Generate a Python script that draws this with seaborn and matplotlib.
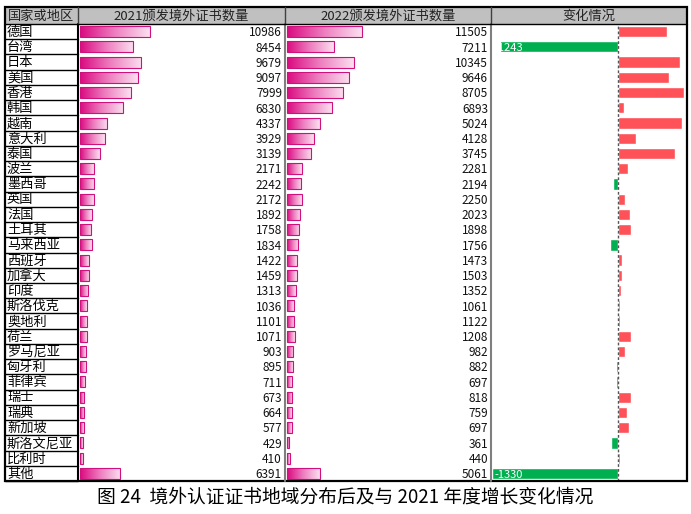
import numpy as np
import pandas as pd
import matplotlib
matplotlib.use("Agg")
import matplotlib.pyplot as plt
import matplotlib.transforms as mtransforms
from matplotlib.patches import Rectangle
from matplotlib.colors import LinearSegmentedColormap
import seaborn as sns

# Data
regions = ["德国", "台湾", "日本", "美国", "香港", "韩国", "越南", "意大利", "泰国", "波兰",
           "墨西哥", "英国", "法国", "土耳其", "马来西亚", "西班牙", "加拿大", "印度", "斯洛伐克", "奥地利",
           "荷兰", "罗马尼亚", "匈牙利", "菲律宾", "瑞士", "瑞典", "新加坡", "斯洛文尼亚", "比利时", "其他"]
count_2021 = [10986, 8454, 9679, 9097, 7999, 6830, 4337, 3929, 3139, 2171,
              2242, 2172, 1892, 1758, 1834, 1422, 1459, 1313, 1036, 1101,
              1071, 903, 895, 711, 673, 664, 577, 429, 410, 6391]
count_2022 = [11505, 7211, 10345, 9646, 8705, 6893, 5024, 4128, 3745, 2281,
              2194, 2250, 2023, 1898, 1756, 1473, 1503, 1352, 1061, 1122,
              1208, 982, 882, 697, 818, 759, 697, 361, 440, 5061]
headers = ["国家或地区", "2021颁发境外证书数量", "2022颁发境外证书数量", "变化情况"]
caption = "图 24  境外认证证书地域分布后及与 2021 年度增长变化情况"

df = pd.DataFrame({"region": regions, "y2021": count_2021, "y2022": count_2022})
df["change"] = df["y2022"] - df["y2021"]
df["trend"] = np.where(df["change"] >= 0, "up", "down")

sns.set_theme(style="white")
plt.rcParams["font.family"] = ["Noto Sans CJK SC", "DejaVu Sans"]

W, H = 691, 514
fig = plt.figure(figsize=(W / 100, H / 100), dpi=100)


def px_rect(x0, y0, x1, y1):
    return [x0 / W, 1 - y1 / H, (x1 - x0) / W, (y1 - y0) / H]


# table geometry in pixels
col_x = [5, 78, 285, 491, 687]
head_top, body_top, body_bot = 7, 24, 481
n = len(regions)
row_h = (body_bot - body_top) / n

# background / header layer
bg = fig.add_axes([0, 0, 1, 1])
bg.set_xlim(0, W)
bg.set_ylim(H, 0)
bg.axis("off")
bg.add_patch(Rectangle((col_x[0], head_top), col_x[-1] - col_x[0], body_top - head_top,
                       facecolor="#c0c0c0", edgecolor="none"))
for i, h in enumerate(headers):
    bg.text((col_x[i] + col_x[i + 1]) / 2, (head_top + body_top) / 2 + 0.5, h,
            ha="center", va="center", fontsize=9.5, color="#222222")
for i, r in enumerate(regions):
    bg.text(col_x[0] + 2, body_top + (i + 0.55) * row_h, r, ha="left", va="center",
            fontsize=9.5, color="black")
    bg.plot([col_x[0], col_x[1]], [body_top + (i + 1) * row_h] * 2, color="black", lw=1)
bg.text(W / 2, 497, caption, ha="center", va="center", fontsize=13.5, color="black")

pink = LinearSegmentedColormap.from_list("pinkbar", ["#da0a80", "#ee7fc0", "#fbe0f0"])
grad = np.linspace(0, 1, 256).reshape(1, -1)


def count_column(col, x0, x1, xmax):
    ax = fig.add_axes(px_rect(x0, body_top, x1, body_bot))
    sns.barplot(data=df, y="region", x=col, orient="h", ax=ax, width=0.72,
                color="#da0a80", saturation=1, errorbar=None)
    ylim = ax.get_ylim()
    for p in list(ax.patches):
        bx, by, bw, bh = p.get_x(), p.get_y(), p.get_width(), p.get_height()
        im = ax.imshow(grad, extent=[bx, bx + bw, by + bh, by], cmap=pink,
                       aspect="auto", zorder=2, interpolation="bilinear")
        im.set_clip_path(p)
        p.set_facecolor("none")
        p.set_edgecolor("#d0107c")
        p.set_linewidth(0.8)
        p.set_zorder(3)
    ax.set_xlim(-xmax * 0.0098, xmax)
    ax.set_ylim(ylim)
    trans = mtransforms.blended_transform_factory(ax.transAxes, ax.transData)
    for i, v in enumerate(df[col]):
        ax.text(1 - 3 / (x1 - x0), i + 0.08, f"{v}", transform=trans, ha="right", va="center",
                fontsize=8.5, color="#111111")
    ax.axis("off")
    return ax


count_column("y2021", col_x[1], col_x[2], 32400)
count_column("y2022", col_x[2], col_x[3], 31500)

# change column
ax3 = fig.add_axes(px_rect(col_x[3], body_top, col_x[4], body_bot))
sns.barplot(data=df, y="region", x="change", orient="h", ax=ax3, hue="trend",
            palette={"up": "#ff5258", "down": "#00b050"}, dodge=False, legend=False,
            width=0.74, saturation=1, errorbar=None)
xl = (-1341, 735)
ax3.set_xlim(xl)
ax3.axvline(0, color="#555555", lw=1, ls=(0, (2, 1.5)), zorder=4)
trans3 = mtransforms.blended_transform_factory(ax3.transAxes, ax3.transData)
label_reach = xl[0] + (xl[1] - xl[0]) * 0.15
for i, v in enumerate(df["change"]):
    # the cell value is white text, it only shows where the bar covers the cell start
    if min(v, 0) < label_reach:
        ax3.text(3 / (col_x[4] - col_x[3]), i + 0.08, f"{v}", transform=trans3, ha="left",
                 va="center", fontsize=8, color="white", zorder=5)
ax3.axis("off")

# grid lines on top
ov = fig.add_axes([0, 0, 1, 1])
ov.set_xlim(0, W)
ov.set_ylim(H, 0)
ov.axis("off")
ov.patch.set_alpha(0)
for x, c in zip(col_x[1:-1], ["black", "#7f7f7f", "#7f7f7f"]):
    ov.plot([x, x], [body_top, body_bot], color=c, lw=1.5)
for x in col_x[1:-1]:
    ov.plot([x, x], [head_top, body_top], color="#404040", lw=1)
ov.plot([col_x[0], col_x[-1]], [body_top, body_top], color="black", lw=1)
ov.add_patch(Rectangle((col_x[0], head_top), col_x[-1] - col_x[0], body_bot - head_top,
                       facecolor="none", edgecolor="black", lw=1.6))

fig.savefig("out.png", dpi=100)
